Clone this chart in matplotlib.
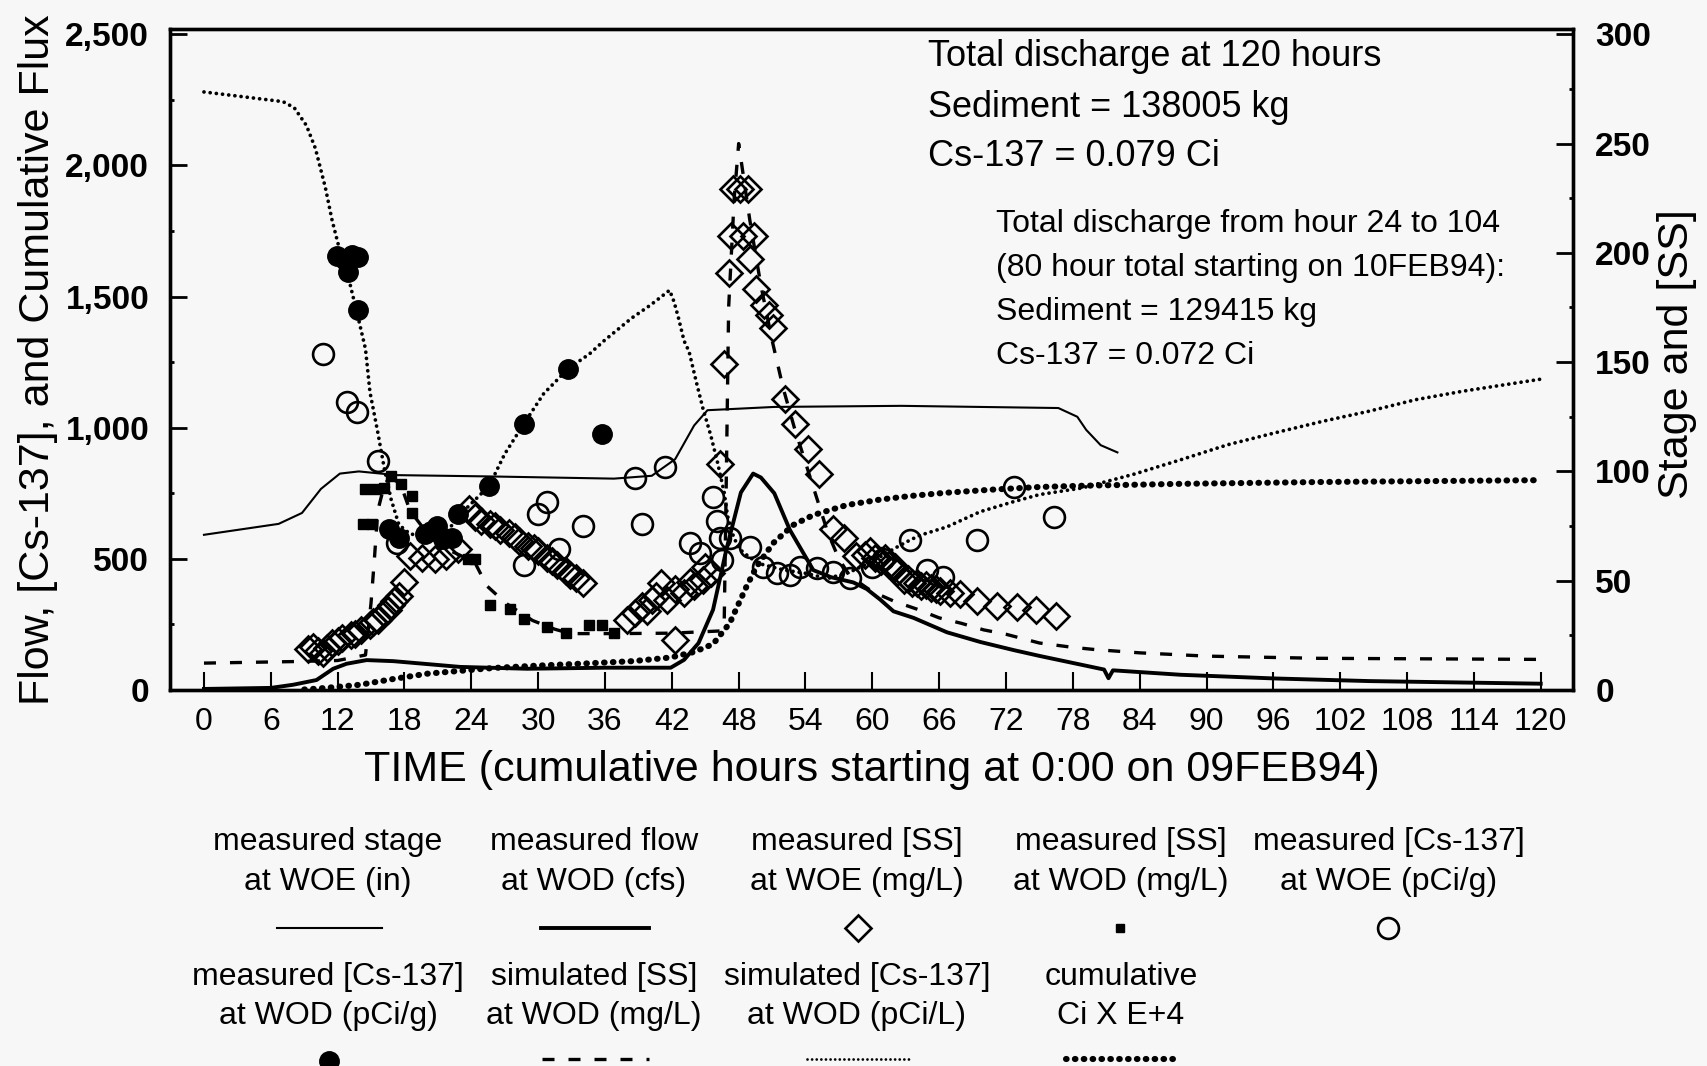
import matplotlib
matplotlib.use("Agg")
import matplotlib.pyplot as plt
from matplotlib.ticker import MultipleLocator, FuncFormatter

plt.rcParams['font.family'] = ['Liberation Sans', 'DejaVu Sans']

# ---- data (hours since 0:00 09FEB94) ----
# measured stage at WOE (in) -> right axis
stage_h = [0, 6.7, 8.8, 10.5, 12.2, 13.9, 17.3, 25.7, 36.8, 40.2, 42.3, 44.0, 45.2,
           51.2, 62.6, 76.7, 78.4, 79.2, 80.5, 82.0]
stage_r = [71, 76, 81, 92, 99, 100, 98.3, 97.7, 96.7, 98, 105.6, 121, 128,
           129.5, 130, 129, 125, 119, 112, 108.7]

# measured flow at WOD (cfs) -> left axis
flow_h = [0, 6, 8, 10.1, 11.6, 12.8, 14.6, 17, 23, 29, 36, 41.9, 43.1, 44.4,
          45.7, 46.9, 48.2, 49.3, 50.0, 51.2, 52.6, 54.7, 56.3, 58.3, 59.5, 60.7,
          61.9, 63.7, 66.7, 69.7, 72.7, 75, 80.8, 81.2, 81.6, 87.7, 96.1, 104.6, 120]
flow_v = [4, 8, 20, 38, 81, 100, 114, 110, 88, 81, 85, 85, 115, 179,
          306, 536, 753, 825, 810, 750, 610, 457, 430, 410, 385, 345,
          300, 275, 220, 183, 152, 130, 78, 45, 75, 58, 44, 34, 24]

# simulated [SS] at WOD (mg/L) -> right axis
simss_h = [0, 8, 12, 14.5, 15.0, 15.3, 15.6, 16.2, 17.0, 17.8, 18.5, 20, 22, 24.3,
           25.4, 27.1, 29.5, 31.5, 32.9, 37, 42, 46.3, 46.7, 46.9, 47.1, 47.6, 48.0,
           49, 50, 51, 52, 53, 54, 55, 56, 57, 58, 60, 62, 64, 66, 68, 70, 72, 75,
           78, 80, 84, 90, 100, 120]
simss_r = [12.3, 13.0, 13.5, 16, 40, 60, 82, 94, 97, 92, 82, 72, 64, 58.5,
           47.6, 39.7, 31.8, 27.8, 25.8, 25.8, 26, 27, 30, 100, 175, 225, 250,
           215, 185, 160, 138, 120, 104, 88, 72, 60, 52, 45, 40.5, 37, 33, 30.5, 27.5, 25.5, 21.5,
           19.5, 18.5, 17, 15.5, 14.5, 14]

# simulated [Cs-137] at WOD (pCi/L) -> left axis
simcs_h = [0, 7.1, 8.1, 9.2, 10.0, 10.9, 11.5, 12.1, 13.0, 13.85, 14.5, 14.9, 15.6,
           16.2, 16.8, 17.5, 18.5, 20, 21.5, 22.5, 23.5, 25.6, 27, 28.7, 30.5, 32.7,
           34.6, 35.9, 38.4, 40.1, 41.8, 42.2, 42.6, 43.1, 43.55, 44.2, 44.8, 45.5,
           46.1, 46.7, 47.0, 47.5, 48, 49, 50, 52, 54, 56, 58, 60, 62, 63.4,
           64.3, 66.7, 69.7, 72.6, 75, 78.8, 81.3, 83.5, 87.7, 91.9, 96.1,
           100.4, 104.6, 108.8, 113, 120]
simcs_v = [2280, 2243, 2220, 2152, 2065, 1915, 1791, 1691, 1567, 1418, 1300, 1136, 983,
           842, 727, 630, 595, 585, 590, 640, 690, 778, 900, 1014, 1130, 1225,
           1281, 1331, 1418, 1468, 1524, 1480, 1418, 1331, 1290, 1174, 1072, 970,
           868, 753, 664, 590, 540, 505, 480, 458, 445, 425, 450, 490, 540, 572,
           590, 622, 680, 717, 745, 770, 798, 823, 878, 935, 980,
           1024, 1063, 1107, 1139, 1185]

# cumulative Ci x E+4 -> left axis
cum_h = [9, 10.1, 12, 14, 17, 20, 23, 26, 30, 34.2, 38.5, 41.9, 44,
         45.7, 47.2, 48.7, 49.6, 51.1, 52.9, 54.7, 57.7, 60.7, 63.5, 66.6,
         70.8, 75, 79.2, 87.7, 100.4, 120]
cum_v = [2, 5, 12, 20, 42, 62, 73, 84, 93, 101, 110, 124, 145,
         175, 255, 394, 470, 560, 629, 667, 705, 726, 740, 752,
         764, 774, 779, 786, 793, 800]

# measured [SS] at WOE (mg/L), diamonds -> right axis
woe_ss_h = [9.3, 9.8, 10.2, 10.7, 11.0, 11.5, 12.0, 12.4, 13.2, 13.6, 14.1, 14.9, 15.2, 15.6,
            16.2, 16.5, 16.8, 17.1, 17.5, 18.0,
            18.5, 19.6, 20.7, 21.7, 22.8, 23.8, 24.3, 24.9, 25.7, 26.1, 26.6, 27.4, 27.9,
            28.3, 29.1, 29.6, 30.0, 30.8, 31.2, 31.7, 32.5, 32.9, 33.4, 34.0,
            38.0, 38.7, 39.3, 39.8, 40.2, 40.6, 41.0, 41.6, 42.3, 43.1, 43.6, 44.0,
            44.8, 45.0, 45.5, 42.3, 46.3, 46.7,
            47.5, 48.1, 48.8, 47.3, 48.4, 49.4, 47.1, 49.0, 49.6, 50.3, 50.7, 51.1,
            52.2, 53.1, 54.2, 55.2,
            56.5, 57.5, 58.5, 59.3, 59.8, 60.2, 60.8, 61.1, 61.5, 62.0, 62.2, 62.8, 63.2,
            63.6, 64.0, 64.4, 64.8, 65.3, 65.7, 66.1, 67.0, 67.9, 69.4, 71.2, 73.0,
            74.7, 76.5]
woe_ss_r = [18.9, 19.9, 18.0, 16.8, 19.2, 21.5, 22.2, 23.8, 25.3, 25.8, 27.6, 29.9, 31.0, 32.2,
            35.2, 36.6, 39.0, 40.8, 42.8, 49.5,
            61.2, 60.5, 59.8, 61.2, 64.3, 82.7, 79.2, 77.3, 75.8, 75.0, 73.4, 72.0, 70.2,
            68.2, 65.9, 64.8, 63.6, 60.5, 58.8, 57.4, 54.4, 52.8, 51.2, 49.0,
            32.2, 35.2, 38.3, 36.0, 41.3, 43.2, 49.0, 41.3, 46.0, 44.4, 49.2, 47.5,
            50.5, 56.4, 53.6, 22.9, 103.3, 149.3,
            229, 229, 229, 207.6, 207.6, 207.6, 191, 197, 183.6, 176, 171.6, 165.6,
            133.2, 121.7, 110.3, 98.8,
            73.8, 69.6, 61.2, 61.8, 63.6, 60.4, 58.8, 60.6, 57.2, 56.4, 54.0, 50.5, 51.0,
            49.0, 49.0, 47.5, 48.0, 46.5, 46.0, 45.5, 44.5, 44.0, 40.5, 38.5, 38.0,
            36.6, 34.0]

# measured [SS] at WOD (mg/L), small squares -> right axis
wod_ss_h = [14.3, 14.5, 15.1, 15.35, 16.2, 16.8, 17.7, 18.7, 18.7, 23.7, 24.3, 25.7,
            27.5, 28.7, 30.8, 32.5, 34.6, 35.7, 36.8]
wod_ss_r = [75.8, 91.9, 75.8, 91.9, 92.6, 98.0, 94.2, 88.8, 81.1, 59.8, 59.8, 39.0,
            37.2, 32.6, 28.8, 26.0, 29.9, 29.9, 26.3]

# measured [Cs-137] at WOE (pCi/g), open circles -> left axis
woe_cs_h = [10.7, 12.8, 13.7, 15.6, 17.3, 28.7, 30.0, 30.8, 31.9, 34.0, 38.7, 39.3, 41.4,
            43.6, 44.5, 45.7, 46.1, 46.3, 46.5, 47.2, 49.0, 50.2, 51.4, 52.6, 53.5,
            55.0, 56.5, 58.0, 60.0, 61.0, 63.4, 64.9, 66.3, 69.4, 72.7, 76.3]
woe_cs_v = [1282, 1097, 1059, 874, 561, 478, 670, 715, 536, 625, 810, 632, 849,
            560, 522, 737, 644, 580, 495, 580, 545, 469, 446, 438, 469,
            465, 450, 427, 470, 500, 572, 457, 431, 572, 775, 660]

# measured [Cs-137] at WOD (pCi/g), filled circles -> left axis
wod_cs_h = [11.9, 12.7, 13.3, 13.8, 12.9, 13.85, 16.6, 17.5, 19.8, 20.4, 20.9, 21.5,
            22.3, 22.8, 25.6, 28.7, 32.7, 35.7]
wod_cs_v = [1654, 1640, 1660, 1650, 1592, 1449, 612, 581, 593, 606, 625, 574,
            581, 670, 778, 1014, 1225, 976]

x_ticks = list(range(0, 121, 6))

summary_lines = ["Total discharge at 120 hours", "Sediment = 138005 kg", "Cs-137 = 0.079 Ci"]
window_lines = ["Total discharge from hour 24 to 104", "(80 hour total starting on 10FEB94):",
                "Sediment = 129415 kg", "Cs-137 = 0.072 Ci"]

legend_row1 = ["measured stage\nat WOE (in)", "measured flow\nat WOD (cfs)",
               "measured [SS]\nat WOE (mg/L)", "measured [SS]\nat WOD (mg/L)",
               "measured [Cs-137]\nat WOE (pCi/g)"]
legend_row2 = ["measured [Cs-137]\nat WOD (pCi/g)", "simulated [SS]\nat WOD (mg/L)",
               "simulated [Cs-137]\nat WOD (pCi/L)", "cumulative\nCi X E+4"]

W, H = 1708, 1066
BG = '#f7f7f7'

# styles
st_stage = dict(color='k', lw=1.5)
st_flow = dict(color='k', lw=2.8)
st_simss = dict(color='k', lw=2.4, ls=(0, (3.6, 4.2)))
st_simcs = dict(color='k', lw=2.7, ls=(0, (0.01, 1.65)), dash_capstyle='round')
st_cum = dict(color='k', lw=4.4, ls=(0, (0.1, 1.35)), dash_capstyle='round')
st_dia = dict(marker='D', ms=13.5, mfc='none', mec='k', mew=1.9, ls='none')
st_sq = dict(marker='s', ms=7, color='k', ls='none')
st_oc = dict(marker='o', ms=15, mfc='none', mec='k', mew=1.9, ls='none')
st_fc = dict(marker='o', ms=14, mfc='k', mec='k', ls='none')

fig = plt.figure(figsize=(W / 100, H / 100), dpi=100, facecolor=BG)
L, R, T, B = 170, 1573, 29, 690
ax = fig.add_axes([L / W, 1 - B / H, (R - L) / W, (B - T) / H])
ax.set_facecolor(BG)
ax2 = ax.twinx()

ax.plot(simcs_h, simcs_v, zorder=2, **st_simcs)
ax.plot(cum_h, cum_v, zorder=2, **st_cum)
ax.plot(flow_h, flow_v, zorder=3, **st_flow)
ax.plot(woe_cs_h, woe_cs_v, zorder=4, **st_oc)
ax.plot(wod_cs_h, wod_cs_v, zorder=4, **st_fc)

ax2.plot(stage_h, stage_r, zorder=2, **st_stage)
ax2.plot(simss_h, simss_r, zorder=2, **st_simss)
ax2.plot(woe_ss_h, woe_ss_r, zorder=4, **st_dia)
ax2.plot(wod_ss_h, wod_ss_r, zorder=4, **st_sq)

ax.set_xlim(-3.05, 122.9)
ax.set_ylim(0, 2520)
ax2.set_ylim(0, 2520 * 0.12)

ax.set_xticks(x_ticks)
ax.yaxis.set_major_locator(MultipleLocator(500))
ax.yaxis.set_minor_locator(MultipleLocator(250))
ax.yaxis.set_major_formatter(FuncFormatter(lambda v, p: f'{int(v):,}'))
ax2.yaxis.set_major_locator(MultipleLocator(50))
ax2.yaxis.set_minor_locator(MultipleLocator(25))

ax.tick_params(axis='x', direction='in', length=13, width=1.5, pad=12, labelsize=23)
ax.tick_params(axis='y', which='major', direction='in', length=12, width=2, pad=15, labelsize=24)
ax.tick_params(axis='y', which='minor', direction='in', length=3, width=2)
ax2.tick_params(axis='y', which='major', direction='in', length=12, width=2, pad=16, labelsize=24)
ax2.tick_params(axis='y', which='minor', direction='in', length=3, width=2)
for lab in ax.get_yticklabels() + ax2.get_yticklabels():
    lab.set_fontweight('bold')

for a in (ax, ax2):
    for s in a.spines.values():
        s.set_linewidth(2.4)

ax.set_xlabel("TIME (cumulative hours starting at 0:00 on 09FEB94)", fontsize=31)
ax.xaxis.set_label_coords(0.5, -0.121)
ax.xaxis.label.set_va('center')
ax.set_ylabel("Flow, [Cs-137], and Cumulative Flux", fontsize=31)
ax.yaxis.set_label_coords(-0.094, 0.5)
ax.yaxis.label.set_va('center')
ax2.set_ylabel("Stage and [SS]", fontsize=31)
ax2.yaxis.set_label_coords(1.074, 0.508)
ax2.yaxis.label.set_va('center')
ax2.yaxis.label.set_rotation(90)

# annotation blocks
for i, t in enumerate(summary_lines):
    fig.text(928 / W, 1 - (57 + 50 * i) / H, t, fontsize=26, va='center', ha='left')
for i, t in enumerate(window_lines):
    fig.text(996 / W, 1 - (224 + 44 * i) / H, t, fontsize=23, va='center', ha='left')

# legend panel drawn in pixel space
lg = fig.add_axes([0, 0, 1, 1], facecolor='none')
lg.set_xlim(0, W)
lg.set_ylim(H, 0)
lg.axis('off')

row1_x = [328, 594, 857, 1121, 1389]
row2_x = [328, 594, 857, 1121]
for cx, t in zip(row1_x, legend_row1):
    a, b = t.split('\n')
    lg.text(cx, 842, a, ha='center', va='center', fontsize=23)
    lg.text(cx, 882, b, ha='center', va='center', fontsize=23)
for cx, t in zip(row2_x, legend_row2):
    a, b = t.split('\n')
    lg.text(cx, 977, a, ha='center', va='center', fontsize=23)
    lg.text(cx, 1016, b, ha='center', va='center', fontsize=23)

y1, y2 = 928, 1061
lg.plot([277, 382], [y1, y1], **st_stage)
lg.plot([541, 649], [y1, y1], **st_flow)
lg.plot([858], [y1], **st_dia)
lg.plot([1120], [y1], **{**st_sq, 'ms': 6})
lg.plot([1388], [y1], **st_oc)
lg.plot([329], [y2], clip_on=False, **st_fc)
lg.plot([542, 649], [y2 - 2, y2 - 2], **st_simss)
lg.plot([807, 913], [y2 - 2, y2 - 2], **{**st_simcs, 'lw': 2.0})
lg.plot([1066, 1179], [y2 - 2, y2 - 2], **st_cum)

fig.savefig("out.png", dpi=100, facecolor=BG)
